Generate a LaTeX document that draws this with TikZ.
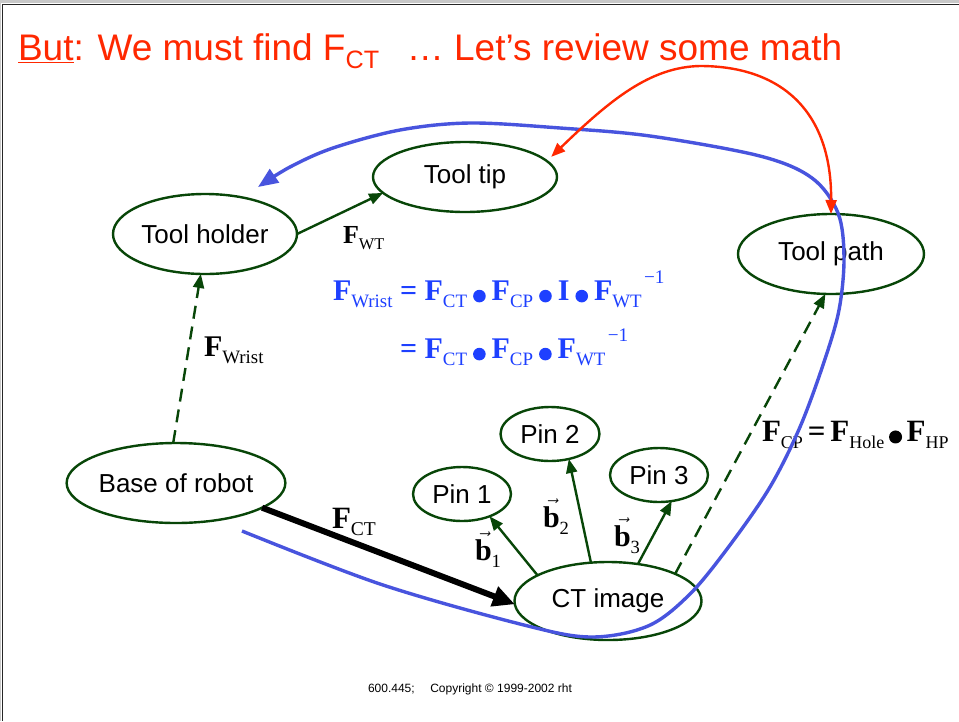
\documentclass[tikz,border=0pt]{standalone}
\usepackage{fontspec}
\usepackage{graphicx}
\setmainfont{Liberation Sans}
\newfontfamily\tnr{Liberation Serif}
\usetikzlibrary{shapes.geometric,arrows.meta}

\definecolor{nodegreen}{RGB}{8,70,8}
\definecolor{loopblue}{RGB}{72,84,222}
\definecolor{eqblue}{RGB}{30,64,255}
\definecolor{titlered}{RGB}{255,40,0}
\definecolor{framegray}{RGB}{200,200,200}

% lowered / raised small text, sized relative to the current font
\makeatletter
\newcommand\lowtxt[2][0.63]{\raisebox{-0.24em}{\fontsize{\fpeval{#1*\f@size}}{1}\selectfont #2}}
\newcommand\hightxt[2][0.64]{\kern0.08em\raisebox{0.55em}{\fontsize{\fpeval{#1*\f@size}}{1}\selectfont #2}}
\makeatother
% bold frame symbol with a roman subscript
\newcommand\Fm[1]{\textbf{F}\lowtxt{#1}}
\newcommand\Fn[1]{\textbf{F}\lowtxt[0.58]{#1}}
% bold equals sign
\newcommand\eqop{\textbf{=}}
% product operator (filled dot)
\newcommand\dotop{\kern0.2em\tikz[baseline=0pt,x=1pt,y=1pt]\fill (0,0.13em) circle[radius=0.21em];\kern0.2em}
% bold vector with arrow and subscript
\newcommand\bvec[1]{$\vec{\mbox{\textbf{b}}}$\lowtxt[0.62]{#1}}

\begin{document}
\begin{tikzpicture}[x=1pt,y=-1pt,
  every node/.style={inner sep=0pt, outer sep=0pt},
  place/.style={ellipse, draw=nodegreen, line width=2.4pt, inner sep=0pt,
    font=\fontsize{26}{30}\selectfont},
  link/.style={draw=nodegreen, line width=2.4pt,
    -{Triangle[length=14pt,width=11pt]}},
  dlink/.style={link, dash pattern=on 13pt off 8pt},
  bigarrow/.style={draw=black, line width=6pt,
    -{Triangle[length=22pt,width=20pt]}},
  loopline/.style={draw=loopblue, line width=3.4pt,
    -{Triangle[length=20pt,width=16pt]}},
  redlink/.style={draw=titlered, line width=2.4pt,
    {Triangle[length=14pt,width=11pt]}-{Triangle[length=14pt,width=11pt]}},
  lbl/.style={anchor=base west, font=\tnr\fontsize{#1}{#1}\selectfont},
  eq/.style={anchor=base west, text=eqblue, font=\tnr\fontsize{30}{30}\selectfont}
]
\useasboundingbox (0,0) rectangle (959,721);
\fill[white] (0,0) rectangle (959,721);

% slide frame
\fill[framegray] (0,0) rectangle (959,3.4);
\fill[framegray] (0,0) rectangle (1.4,721);
\draw[line width=1.4pt, black!85] (2.4,721) -- (2.4,4.4) -- (959,4.4);

% title
\node[anchor=base west, text=titlered, font=\fontsize{37}{40}\selectfont] (title) at (18,60)
  {\underline{But}: We must find F\lowtxt[0.68]{CT}\hspace{0.75em}… Let’s review some math};

% frames
\node[place, minimum width=184pt, minimum height=70pt] (tip)  at (465,177) {Tool tip};
\node[place, minimum width=184pt, minimum height=80pt] (hold) at (205,234) {Tool holder};
\node[place, minimum width=186pt, minimum height=80pt] (path) at (831,254) {Tool path};
\node[place, minimum width=185pt, minimum height=80pt] (base) at (176,483) {Base of robot};
\node[place, minimum width=98pt,  minimum height=54pt] (pin1) at (462,494) {Pin 1};
\node[place, minimum width=99pt,  minimum height=54pt] (pin2) at (550,434) {Pin 2};
\node[place, minimum width=98pt,  minimum height=54pt] (pin3) at (659,475) {Pin 3};
\node[place, minimum width=187pt, minimum height=78pt] (ct)   at (608,601) {CT image};

% transformations between frames
\draw[link]  (hold.east) -- (tip.191);
\draw[dlink] (base.94) -- (hold.264);
\draw[bigarrow] (base.-16) -- (ct.182);
\draw[link]  (ct.160) -- (pin1.-39);
\draw[link]  (ct.114) -- (pin2.-53);
\draw[link]  (ct.51)  -- (pin3.-64);
\draw[dlink] (ct.22)  -- (path.262);

% labels
\node[lbl=26] (lwt) at (343,243) {\Fm{WT}};
\node[lbl=30] (lwrist) at (204,356) {\Fm{Wrist}};
\node[lbl=31] (lct) at (332,528) {\Fm{CT}};
\node[lbl=30] (lb1) at (475,560) {\bvec{1}};
\node[lbl=30] (lb2) at (543,527) {\bvec{2}};
\node[lbl=30] (lb3) at (614,546) {\bvec{3}};
\node[lbl=31] (lcp) at (762,441)
  {\Fn{CP}\kern0.16em\eqop\kern0.16em\Fn{Hole}\kern-0.05em\dotop\kern-0.05em\Fn{HP}};

% equations
\node[eq] (eq1) at (333,300)
  {\Fm{Wrist} \eqop{} \Fm{CT}\dotop\Fm{CP}\dotop\textbf{I}\dotop\Fm{WT}\hightxt{−1}};
\node[eq] (eq2) at (400,358)
  {\eqop{} \Fm{CT}\dotop\Fm{CP}\dotop\Fm{WT}\hightxt{−1}};

% loop of transformations
\coordinate (loopstart) at (242,531);
\coordinate (loopend) at (258,187);
\draw[loopline] plot[smooth, tension=0.55] coordinates {
  (loopstart) (380,584) (520,624) (590,637) (648,626)
  (690,594) (730,545) (770,487) (800,427) (824,362) (839,310) (844,258)
  (838,213) (812,178) (760,156) (650,136) (560,128) (470,123)
  (400,130) (333,148) (290,167) (loopend)};

% link between tool tip and tool path
\draw[redlink] ([xshift=11pt]tip.15) .. controls (610,100) and (650,67) .. (700,66)
  .. controls (780,66) and (832,110) .. (path.north);

% footer
\node[anchor=base west, font=\fontsize{12}{14}\selectfont] (foot) at (368,692)
  {600.445;\hspace{1.3em}Copyright © 1999-2002 rht};
\end{tikzpicture}
\end{document}
